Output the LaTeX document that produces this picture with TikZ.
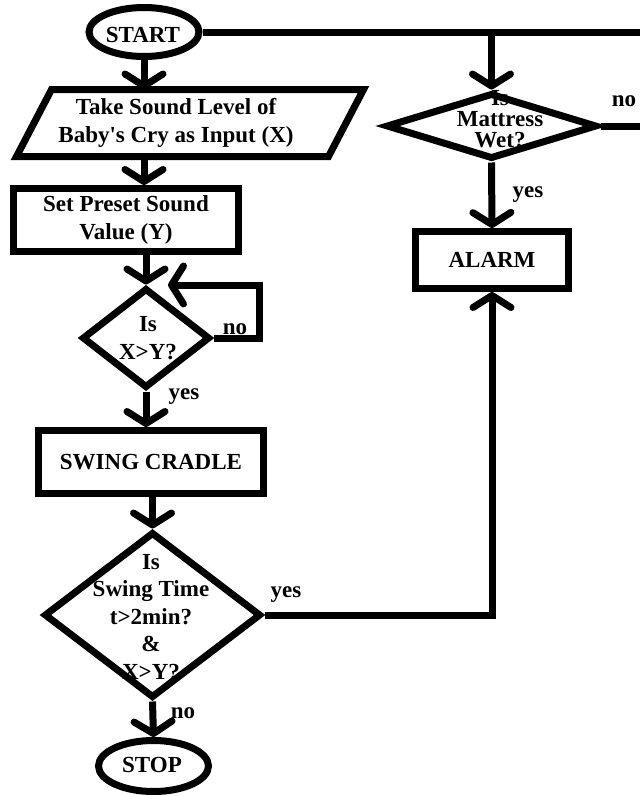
\documentclass[tikz,border=0pt]{standalone}
\usepackage{fontspec}
\setmainfont{Liberation Serif}[Ligatures=TeXOff]
\usetikzlibrary{arrows.meta,shapes.geometric}

\begin{document}
\begin{tikzpicture}[x=1pt,y=-1pt,line width=7pt,
  every node/.style={font=\fontsize{23}{27.5}\selectfont\bfseries,
                     inner sep=0pt, align=center},
  term/.style={draw, ellipse},
  proc/.style={draw, rectangle},
  decide/.style={draw, diamond},
  arr/.style={-{Straight Barb[length=12pt,width=38pt,round]}}]

\useasboundingbox[fill=white] (0,0) rectangle (640,796);

% terminals
\node[term, minimum width=110, minimum height=49] (start) at (144,32) {};
\node (startt) at (143,35) {START};
\node[term, minimum width=110, minimum height=51] (stop) at (153.5,766) {};
\node (stopt) at (152,765) {STOP};

% input (parallelogram drawn around an invisible text box)
\node[minimum width=305, minimum height=60] (inp) at (176,123)
  {Take Sound Level of\\Baby's Cry as Input (X)};
\draw ([xshift=31.5]inp.north west) -- ([xshift=31.5]inp.north east)
   -- ([xshift=-3.5]inp.south east) -- ([xshift=-3.5]inp.south west) -- cycle;

% processes
\node[proc, minimum width=225, minimum height=63] (setv) at (126,220)
  {Set Preset Sound\\Value (Y)};
\node[proc, minimum width=225, minimum height=63] (cradle) at (151,462)
  {SWING CRADLE};
\node[proc, minimum width=153, minimum height=57] (alarm) at (492,260)
  {ALARM};

% decisions
\node[decide, minimum width=128, minimum height=100] (xy) at (146,338) {};
\node (xyt) at (148,338) {Is\\X>Y?};
\node[decide, minimum width=217, minimum height=166] (sw) at (152.5,615) {};
\node (swt) at (151,617) {Is\\Swing Time\\t>2min?\\\&\\X>Y?};
\node[decide, minimum width=211, minimum height=66] (matt) at (491.5,126) {};
\node[font=\fontsize{23}{21}\selectfont\bfseries] (mattt) at (500,119)
  {Is\\Mattress\\Wet?};

% branch labels
\node (l1) at (235,329) {no};
\node (l2) at (184,397) {yes};
\node (l3) at (286,595) {yes};
\node (l4) at (183,713) {no};
\node (l5) at (624,101) {no};
\node (l6) at (528,195) {yes};

% free ends and corners
\coordinate (topend) at (640,32);
\coordinate (mattend) at (640,126);
\coordinate (loopend) at (168,285);
\coordinate (loopcorner) at (259,338);

% connectors
\draw (start.east) -- (topend);
\draw[arr] (matt.north |- start.east) -- (matt.north);
\draw (matt.east) -- (mattend);
\draw[arr] (matt.south) -- (alarm.north);

\draw[arr] (start.south) -- (start.south |- inp.north);
\draw[arr] (start.south |- inp.south) -- (start.south |- setv.north);
\draw[arr] (xy.north |- setv.south) -- (xy.north);
\draw[arr] (xy.east) -- (loopcorner) |- (loopend);
\draw[arr] (xy.south) -- (xy.south |- cradle.north);
\draw[arr] (sw.north |- cradle.south) -- (sw.north);
\draw[arr] (sw.south) -- (stop.north);
\draw[arr] (sw.east) -| (alarm.south);
\end{tikzpicture}
\end{document}
